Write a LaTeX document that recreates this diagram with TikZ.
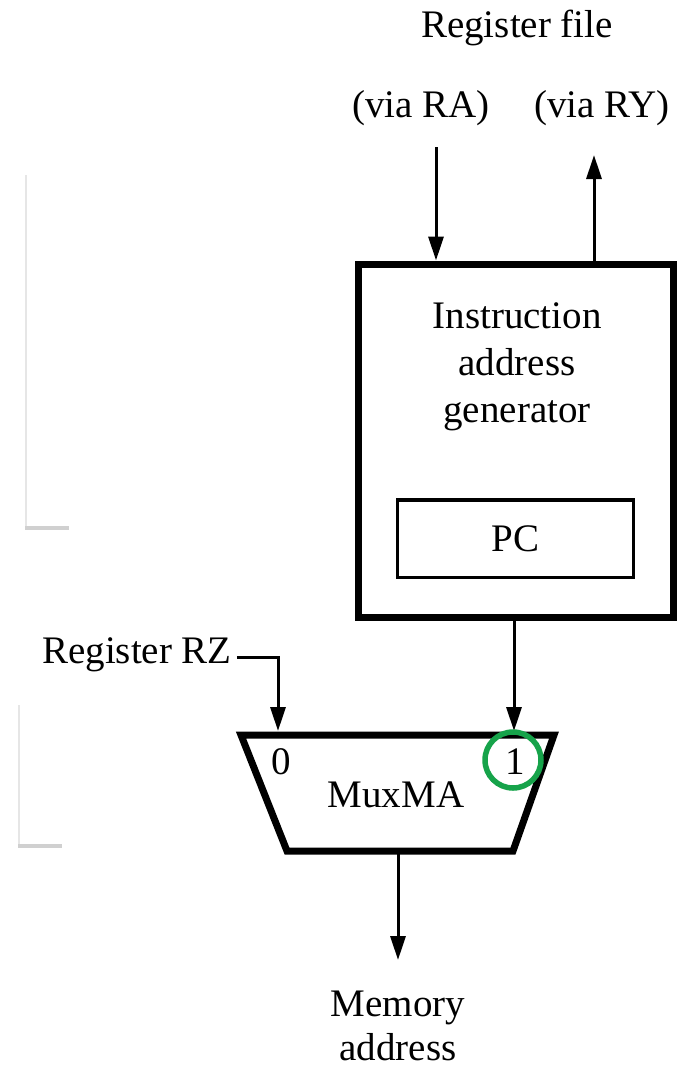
\documentclass[tikz,border=0pt]{standalone}
\usepackage{fontspec}
\setmainfont{Liberation Serif}
\usetikzlibrary{arrows.meta,positioning}
\definecolor{markgreen}{RGB}{22,163,74}
\definecolor{slidegray}{RGB}{208,208,208}
\definecolor{slidelight}{RGB}{230,230,230}
\begin{document}
\begin{tikzpicture}[x=1pt,y=-1pt,
  every node/.style={font=\fontsize{39}{47}\selectfont, inner sep=0pt},
  wire/.style={line width=3pt,-{Triangle[length=24pt,width=15pt]}},
  heavy/.style={line width=7pt},
  lbl/.style={anchor=base, align=center}]
\useasboundingbox (0,0) rectangle (677,1069);
\coordinate (ra) at (436,147);
\coordinate (ry) at (594,155);
\coordinate (m0) at (278,731);
\coordinate (m1) at (514,731);
\coordinate (mtl) at (241,735);
\coordinate (mtr) at (554,735);
\coordinate (mbr) at (513,851);
\coordinate (mbl) at (287,851);
\coordinate (mout) at (398,854);
\coordinate (mtip) at (398,960);

  \draw[slidelight, line width=2pt] (25.5,175) -- (25.5,530);
  \draw[slidegray, line width=4pt] (25,528) -- (69,528);
  \draw[slidelight, line width=2pt] (18.5,705) -- (18.5,847);
  \draw[slidegray, line width=4pt] (18,846) -- (62,846);

  \node (regfile) at (517,37) [lbl] {Register file};
  \node (viara) at (421,117) [lbl] {(via RA)};
  \node (viary) at (602,117) [lbl] {(via RY)};
  \node (iag) at (515.75,440.5) [draw,heavy,minimum width=314.5pt,minimum height=353pt] {};
  \node (iagtext) at (517,422) [lbl] {Instruction\\address\\generator};
  \node (pc) at (515.5,538.75) [draw,line width=3.5pt,minimum width=236pt,minimum height=77.5pt] {PC};
  \draw[wire] (ra) -- (ra |- iag.north);
  \draw[wire] (ry |- iag.north) -- (ry);
  \draw[wire] (m1 |- iag.south) -- (m1);

  \node (rzlbl) at (137,663) [lbl] {Register RZ};
  \draw[wire] ([xshift=5pt,yshift=-3pt]rzlbl.east) -| (m0);
  \draw[heavy] (mtl) -- (mtr) -- (mbr) -- (mbl) -- cycle;
  \node (in0) at (281,774) [lbl] {0};
  \node (in1) at (515,774) [lbl] {1};
  \node (muxma) at (396,807) [lbl] {MuxMA};
  \node (sel) at (513,760) [draw=markgreen,line width=5.5pt,circle,minimum size=56pt] {};
  \draw[wire] (mout) -- (mtip);
  \node (memaddr) at (398,1060) [lbl,font=\fontsize{39}{44}\selectfont] {Memory\\address};
\end{tikzpicture}
\end{document}
